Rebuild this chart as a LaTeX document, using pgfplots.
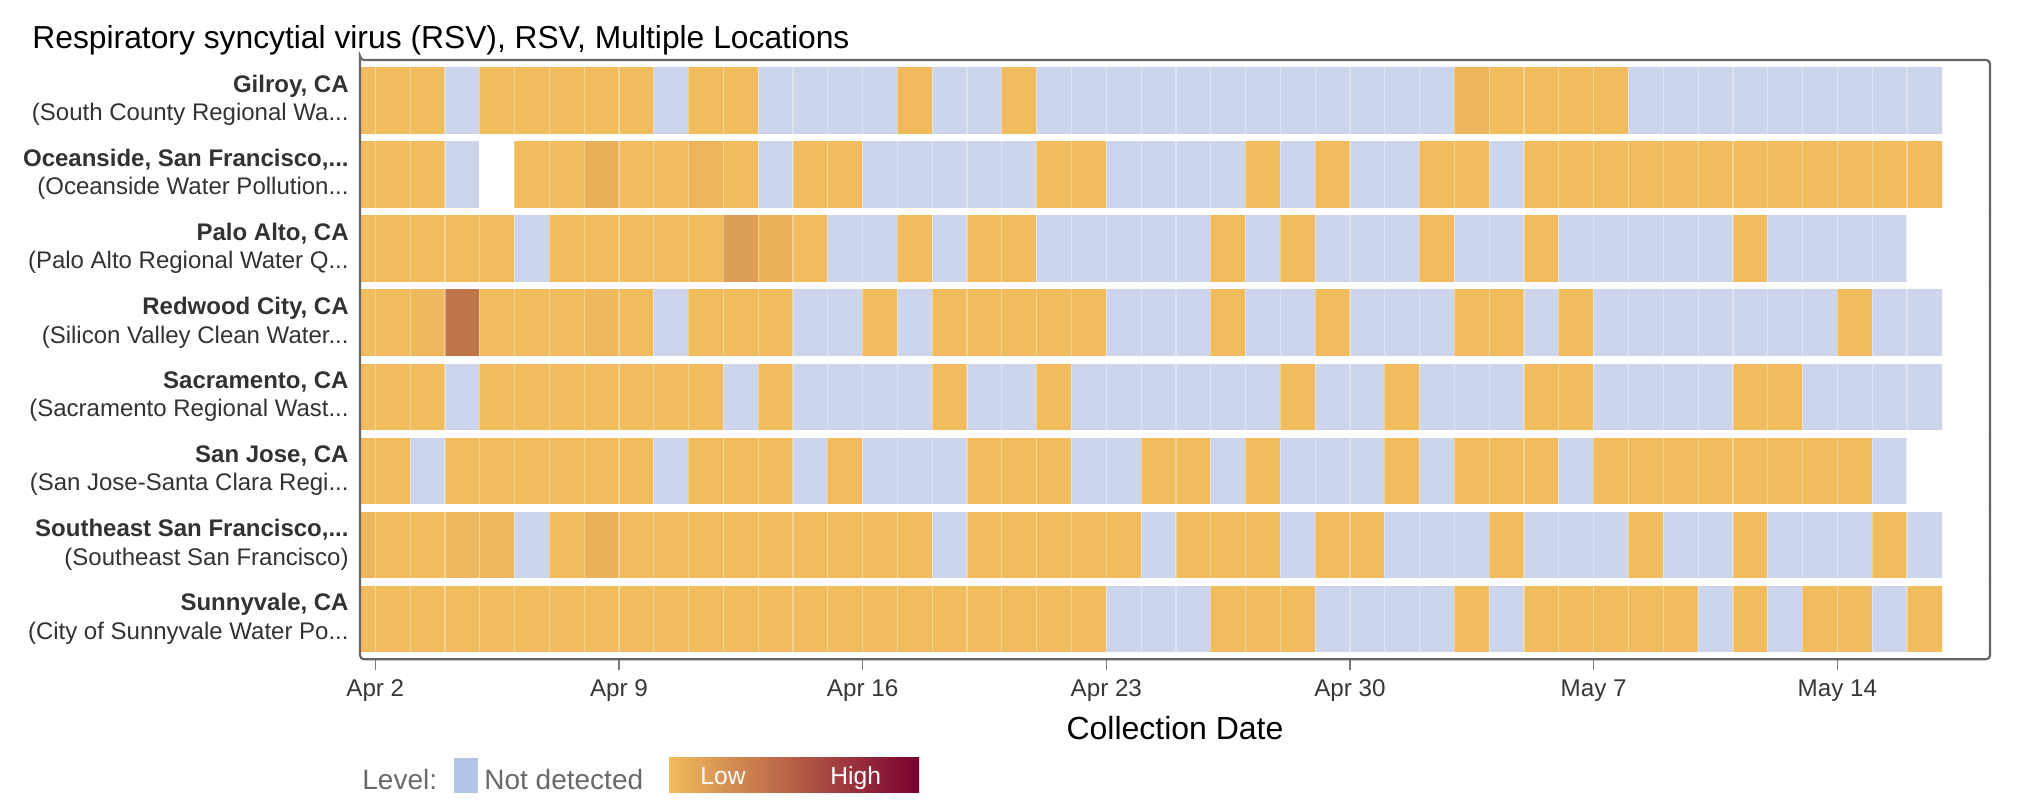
\documentclass[border=0pt]{standalone}
\usepackage{fontspec}
\setmainfont{Liberation Sans}
\usepackage{pgfplots}
\pgfplotsset{compat=1.18}
\newcommand{\eli}{...}
\definecolor{ndcol}{RGB}{205,213,236}
\definecolor{ndleg}{RGB}{180,196,230}
\definecolor{lowcol}{RGB}{241,188,93}
\definecolor{midcol}{RGB}{192,116,74}
\definecolor{highcol}{RGB}{122,0,48}
\definecolor{framegray}{RGB}{102,102,102}
\definecolor{tickgray}{RGB}{120,120,120}
\definecolor{ticktext}{RGB}{55,55,55}
\definecolor{labeltext}{RGB}{50,50,50}
\definecolor{legtext}{RGB}{105,105,105}
\begin{document}
\begin{tikzpicture}
\path[use as bounding box] (0pt,0pt) rectangle (1015pt,404pt);
\node[anchor=base west, inner sep=0pt, font=\fontsize{15.9}{19}\selectfont] at (16pt,379.85pt) {Respiratory syncytial virus (RSV), RSV, Multiple Locations};
\begin{axis}[
  at={(180pt,74.35pt)}, anchor=south west,
  scale only axis, width=815pt, height=299.65pt,
  xmin=0.0605, xmax=46.886,
  ymin=-0.545, ymax=7.545, y dir=reverse,
  colormap={rsv}{rgb255(0pt)=(255,255,255); rgb255(4pt)=(205,213,236); rgb255(7pt)=(205,213,236); rgb255(8pt)=(241,188,93); rgb255(10pt)=(192,116,74); rgb255(11pt)=(162,70,64); rgb255(12pt)=(122,0,48)},
  point meta min=-2, point meta max=1,
  axis on top,
  axis line style={draw=framegray, line width=1.1pt, rounded corners=2pt},
  xtick={0.5,7.5,14.5,21.5,28.5,35.5,42.5},
  xticklabels={Apr 2,Apr 9,Apr 16,Apr 23,Apr 30,May 7,May 14},
  minor xtick={0.5,1.5,2.5,3.5,4.5,5.5,6.5,7.5,8.5,9.5,10.5,11.5,12.5,13.5,14.5,15.5,16.5,17.5,18.5,19.5,20.5,21.5,22.5,23.5,24.5,25.5,26.5,27.5,28.5,29.5,30.5,31.5,32.5,33.5,34.5,35.5,36.5,37.5,38.5,39.5,40.5,41.5,42.5,43.5,44.5},
  ytick={0,1,2,3,4,5,6,7},
  yticklabels={
    {\textbf{Gilroy, CA}\\(South County Regional Wa\eli},
    {\textbf{Oceanside, San Francisco,\eli}\\(Oceanside Water Pollution\eli},
    {\textbf{Palo Alto, CA}\\(Palo Alto Regional Water Q\eli},
    {\textbf{Redwood City, CA}\\(Silicon Valley Clean Water\eli},
    {\textbf{Sacramento, CA}\\(Sacramento Regional Wast\eli},
    {\textbf{San Jose, CA}\\(San Jose-Santa Clara Regi\eli},
    {\textbf{Southeast San Francisco,\eli}\\(Southeast San Francisco)},
    {\textbf{Sunnyvale, CA}\\(City of Sunnyvale Water Po\eli}},
  minor ytick={-0.5,0.5,1.5,2.5,3.5,4.5,5.5,6.5,7.5},
  xminorgrids, yminorgrids,
  minor x grid style={white, opacity=0.35, line width=0.6pt},
  minor y grid style={white, line width=3.85pt},
  minor tick length=0pt,
  tick align=outside,
  major tick length=5.5pt,
  xtick pos=bottom, ytick pos=left,
  xtick style={draw=tickgray, line width=0.6pt},
  ytick style={draw=none},
  xticklabel style={font=\fontsize{12.1}{14}\selectfont, text=ticktext, anchor=base, yshift=-12.9pt},
  yticklabel style={font=\fontsize{12}{14.2}\selectfont, text=labeltext, align=right, inner sep=0pt},
  xlabel={Collection Date},
  xlabel style={at={(axis description cs:0.5,0)}, anchor=base, yshift=-39.85pt, font=\fontsize{16}{19}\selectfont, text=black},
]
\addplot[matrix plot*, mesh/cols=46, point meta=explicit] table[row sep=\\, x=x, y=y, meta=c] {
x y c \\
0 0 0 \\ 1 0 0 \\ 2 0 0 \\ 3 0 -1 \\ 4 0 0 \\ 5 0 0 \\ 6 0 0 \\ 7 0 0 \\ 8 0 0 \\ 9 0 -1 \\ 10 0 0 \\ 11 0 0 \\ 12 0 -1 \\ 13 0 -1 \\ 14 0 -1 \\ 15 0 -1 \\ 16 0 0.02 \\ 17 0 -1 \\ 18 0 -1 \\ 19 0 0 \\ 20 0 -1 \\ 21 0 -1 \\ 22 0 -1 \\
23 0 -1 \\ 24 0 -1 \\ 25 0 -1 \\ 26 0 -1 \\ 27 0 -1 \\ 28 0 -1 \\ 29 0 -1 \\ 30 0 -1 \\ 31 0 -1 \\ 32 0 0.04 \\ 33 0 0 \\ 34 0 0 \\ 35 0 0 \\ 36 0 0 \\ 37 0 -1 \\ 38 0 -1 \\ 39 0 -1 \\ 40 0 -1 \\ 41 0 -1 \\ 42 0 -1 \\ 43 0 -1 \\ 44 0 -1 \\ 45 0 -1 \\
0 1 0 \\ 1 1 0 \\ 2 1 0 \\ 3 1 -1 \\ 4 1 -2 \\ 5 1 0 \\ 6 1 0 \\ 7 1 0.08 \\ 8 1 0 \\ 9 1 0 \\ 10 1 0.05 \\ 11 1 0 \\ 12 1 -1 \\ 13 1 0 \\ 14 1 0 \\ 15 1 -1 \\ 16 1 -1 \\ 17 1 -1 \\ 18 1 -1 \\ 19 1 -1 \\ 20 1 0 \\ 21 1 0 \\ 22 1 -1 \\
23 1 -1 \\ 24 1 -1 \\ 25 1 -1 \\ 26 1 0 \\ 27 1 -1 \\ 28 1 0 \\ 29 1 -1 \\ 30 1 -1 \\ 31 1 0 \\ 32 1 0 \\ 33 1 -1 \\ 34 1 0 \\ 35 1 0 \\ 36 1 0 \\ 37 1 0 \\ 38 1 0 \\ 39 1 0 \\ 40 1 0 \\ 41 1 0 \\ 42 1 0 \\ 43 1 0 \\ 44 1 0 \\ 45 1 0 \\
0 2 0 \\ 1 2 0 \\ 2 2 0 \\ 3 2 0 \\ 4 2 0 \\ 5 2 -1 \\ 6 2 0 \\ 7 2 0 \\ 8 2 0 \\ 9 2 0 \\ 10 2 0 \\ 11 2 0.2 \\ 12 2 0.06 \\ 13 2 0 \\ 14 2 -1 \\ 15 2 -1 \\ 16 2 0 \\ 17 2 -1 \\ 18 2 0 \\ 19 2 0 \\ 20 2 -1 \\ 21 2 -1 \\ 22 2 -1 \\
23 2 -1 \\ 24 2 -1 \\ 25 2 0 \\ 26 2 -1 \\ 27 2 0 \\ 28 2 -1 \\ 29 2 -1 \\ 30 2 -1 \\ 31 2 0 \\ 32 2 -1 \\ 33 2 -1 \\ 34 2 0 \\ 35 2 -1 \\ 36 2 -1 \\ 37 2 -1 \\ 38 2 -1 \\ 39 2 -1 \\ 40 2 0 \\ 41 2 -1 \\ 42 2 -1 \\ 43 2 -1 \\ 44 2 -1 \\ 45 2 -2 \\
0 3 0 \\ 1 3 0 \\ 2 3 0.03 \\ 3 3 0.5 \\ 4 3 0 \\ 5 3 0 \\ 6 3 0 \\ 7 3 0.03 \\ 8 3 0 \\ 9 3 -1 \\ 10 3 0 \\ 11 3 0 \\ 12 3 0 \\ 13 3 -1 \\ 14 3 -1 \\ 15 3 0 \\ 16 3 -1 \\ 17 3 0 \\ 18 3 0 \\ 19 3 0 \\ 20 3 0 \\ 21 3 0 \\ 22 3 -1 \\
23 3 -1 \\ 24 3 -1 \\ 25 3 0 \\ 26 3 -1 \\ 27 3 -1 \\ 28 3 0 \\ 29 3 -1 \\ 30 3 -1 \\ 31 3 -1 \\ 32 3 0 \\ 33 3 0 \\ 34 3 -1 \\ 35 3 0 \\ 36 3 -1 \\ 37 3 -1 \\ 38 3 -1 \\ 39 3 -1 \\ 40 3 -1 \\ 41 3 -1 \\ 42 3 -1 \\ 43 3 0 \\ 44 3 -1 \\ 45 3 -1 \\
0 4 0 \\ 1 4 0 \\ 2 4 0 \\ 3 4 -1 \\ 4 4 0 \\ 5 4 0 \\ 6 4 0 \\ 7 4 0 \\ 8 4 0 \\ 9 4 0 \\ 10 4 0 \\ 11 4 -1 \\ 12 4 0 \\ 13 4 -1 \\ 14 4 -1 \\ 15 4 -1 \\ 16 4 -1 \\ 17 4 0 \\ 18 4 -1 \\ 19 4 -1 \\ 20 4 0 \\ 21 4 -1 \\ 22 4 -1 \\
23 4 -1 \\ 24 4 -1 \\ 25 4 -1 \\ 26 4 -1 \\ 27 4 0 \\ 28 4 -1 \\ 29 4 -1 \\ 30 4 0 \\ 31 4 -1 \\ 32 4 -1 \\ 33 4 -1 \\ 34 4 0 \\ 35 4 0 \\ 36 4 -1 \\ 37 4 -1 \\ 38 4 -1 \\ 39 4 -1 \\ 40 4 0 \\ 41 4 0 \\ 42 4 -1 \\ 43 4 -1 \\ 44 4 -1 \\ 45 4 -1 \\
0 5 0 \\ 1 5 0 \\ 2 5 -1 \\ 3 5 0 \\ 4 5 0 \\ 5 5 0 \\ 6 5 0 \\ 7 5 0 \\ 8 5 0 \\ 9 5 -1 \\ 10 5 0 \\ 11 5 0 \\ 12 5 0 \\ 13 5 -1 \\ 14 5 0 \\ 15 5 -1 \\ 16 5 -1 \\ 17 5 -1 \\ 18 5 0 \\ 19 5 0 \\ 20 5 0 \\ 21 5 -1 \\ 22 5 -1 \\
23 5 0 \\ 24 5 0 \\ 25 5 -1 \\ 26 5 0 \\ 27 5 -1 \\ 28 5 -1 \\ 29 5 -1 \\ 30 5 0 \\ 31 5 -1 \\ 32 5 0 \\ 33 5 0 \\ 34 5 0 \\ 35 5 -1 \\ 36 5 0 \\ 37 5 0 \\ 38 5 0 \\ 39 5 0 \\ 40 5 0 \\ 41 5 0 \\ 42 5 0 \\ 43 5 0 \\ 44 5 -1 \\ 45 5 -2 \\
0 6 0.04 \\ 1 6 0 \\ 2 6 0 \\ 3 6 0.03 \\ 4 6 0.03 \\ 5 6 -1 \\ 6 6 0 \\ 7 6 0.07 \\ 8 6 0 \\ 9 6 0 \\ 10 6 0 \\ 11 6 0 \\ 12 6 0 \\ 13 6 0 \\ 14 6 0 \\ 15 6 0 \\ 16 6 0 \\ 17 6 -1 \\ 18 6 0 \\ 19 6 0 \\ 20 6 0 \\ 21 6 0 \\ 22 6 0 \\
23 6 -1 \\ 24 6 0 \\ 25 6 0 \\ 26 6 0 \\ 27 6 -1 \\ 28 6 0 \\ 29 6 0 \\ 30 6 -1 \\ 31 6 -1 \\ 32 6 -1 \\ 33 6 0 \\ 34 6 -1 \\ 35 6 -1 \\ 36 6 -1 \\ 37 6 0 \\ 38 6 -1 \\ 39 6 -1 \\ 40 6 0 \\ 41 6 -1 \\ 42 6 -1 \\ 43 6 -1 \\ 44 6 0 \\ 45 6 -1 \\
0 7 0 \\ 1 7 0 \\ 2 7 0 \\ 3 7 0 \\ 4 7 0 \\ 5 7 0 \\ 6 7 0 \\ 7 7 0 \\ 8 7 0 \\ 9 7 0 \\ 10 7 0 \\ 11 7 0 \\ 12 7 0 \\ 13 7 0 \\ 14 7 0 \\ 15 7 0 \\ 16 7 0 \\ 17 7 0 \\ 18 7 0 \\ 19 7 0 \\ 20 7 0 \\ 21 7 0 \\ 22 7 -1 \\
23 7 -1 \\ 24 7 -1 \\ 25 7 0 \\ 26 7 0 \\ 27 7 0 \\ 28 7 -1 \\ 29 7 -1 \\ 30 7 -1 \\ 31 7 -1 \\ 32 7 0 \\ 33 7 -1 \\ 34 7 0 \\ 35 7 0 \\ 36 7 0 \\ 37 7 0 \\ 38 7 0 \\ 39 7 -1 \\ 40 7 0 \\ 41 7 -1 \\ 42 7 0 \\ 43 7 0 \\ 44 7 -1 \\ 45 7 0 \\
};
\end{axis}
% legend (colour key)
\node[anchor=base west, inner sep=0pt, text=legtext, font=\fontsize{14}{16}\selectfont] at (181pt,9pt) {Level:};
\fill[ndleg] (226.85pt,7.5pt) rectangle (238.9pt,25pt);
\node[anchor=base west, inner sep=0pt, text=legtext, font=\fontsize{14}{16}\selectfont] at (242pt,9pt) {Not detected};
\shade[left color=lowcol, middle color=midcol, right color=highcol] (334.5pt,7.5pt) rectangle (459.5pt,25pt);
\node[anchor=base west, inner sep=0pt, text=white, font=\fontsize{12.3}{14}\selectfont] at (350pt,11.85pt) {Low};
\node[anchor=base west, inner sep=0pt, text=white, font=\fontsize{12.3}{14}\selectfont] at (415pt,11.85pt) {High};
\end{tikzpicture}
\end{document}
